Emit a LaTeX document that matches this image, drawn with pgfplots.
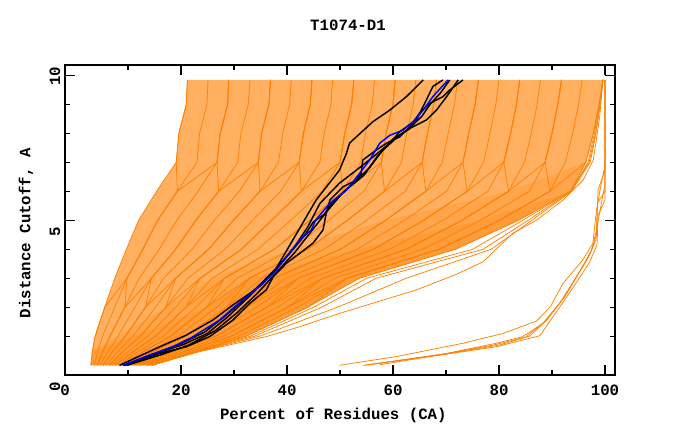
\documentclass[border=0pt]{standalone}
\usepackage{fontspec}
\setmainfont{Liberation Mono}
\usepackage{pgfplots}
\usepackage{pgfplotstable}
\pgfplotsset{compat=1.18}
\definecolor{gor}{RGB}{255,128,0}
\newcommand\lab{\fontsize{11.8}{13}\selectfont\bfseries}

\pgfplotstableread{
y c0 c1 c2 c3 c4 c5 c6 c7 c8 c9 c10 c11 c12 c13 c14 c15 c16 c17 c18 c19 c20
0 3.0 3.6 4.2 4.7 5.3 5.9 6.5 7.0 7.6 8.2 8.8 9.3 9.9 10.5 11.1 11.6 12.2 12.8 13.4 13.9 14.5
0.5 3.3 4.3 5.3 6.3 7.2 8.2 9.2 10.2 11.2 12.2 13.2 14.1 15.1 16.1 17.1 18.1 19.1 20.0 21.0 22.0 23.0
1 3.8 5.2 6.6 8.1 9.5 10.9 12.3 13.7 15.2 16.6 18.0 19.4 20.8 22.3 23.7 25.1 26.5 27.9 29.4 30.8 32.2
2 5.6 7.5 9.4 11.3 13.3 15.2 17.1 19.0 20.9 22.8 24.8 26.7 28.6 30.5 32.4 34.3 36.2 38.2 40.1 42.0 43.9
3 7.5 9.8 12.1 14.4 16.7 19.0 21.3 23.6 25.9 28.2 30.6 32.9 35.2 37.5 39.8 42.1 44.4 46.7 49.0 51.3 53.6
4 9.7 12.8 15.9 19.0 22.1 25.2 28.3 31.4 34.5 37.6 40.8 43.9 47.0 50.1 53.2 56.3 59.4 62.5 65.6 68.7 71.8
5 12.0 15.6 19.2 22.8 26.3 29.9 33.5 37.1 40.7 44.3 47.9 51.4 55.0 58.6 62.2 65.8 69.4 73.0 76.5 80.1 83.7
6 15.4 19.3 23.2 27.1 31.0 34.9 38.8 42.7 46.6 50.5 54.5 58.4 62.3 66.2 70.1 74.0 77.9 81.8 85.7 89.6 93.5
7 19.1 23.0 26.8 30.7 34.6 38.4 42.3 46.2 50.0 53.9 57.8 61.6 65.5 69.3 73.2 77.1 80.9 84.8 88.7 92.5 96.4
8 19.6 23.5 27.4 31.3 35.2 39.2 43.1 47.0 50.9 54.8 58.7 62.6 66.5 70.4 74.3 78.3 82.2 86.1 90.0 93.9 97.8
9 21.0 24.9 28.8 32.7 36.6 40.5 44.4 48.3 52.2 56.1 60.0 63.8 67.7 71.6 75.5 79.4 83.3 87.2 91.1 95.0 98.9
9.84 21.2 25.1 29.0 33.0 36.9 40.8 44.7 48.6 52.6 56.5 60.4 64.3 68.2 72.2 76.1 80.0 83.9 87.8 91.8 95.7 99.6
}\maintab

\pgfplotstableread{
y d1 d2 d3 d4 d5 d6 d7 d8 d9 d10 u1 u2 u3 u4 u5 u6 u7 u8 u9 u10
0 4.2 5.3 6.5 7.6 8.8 9.9 11.1 12.2 13.4 14.5 3.0 4.2 5.3 6.5 7.6 8.8 9.9 11.1 12.2 13.4
0.5 5.3 7.2 9.2 11.2 13.2 15.1 17.1 19.1 21.0 23.0 3.3 5.3 7.2 9.2 11.2 13.2 15.1 17.1 19.1 21.0
1 6.6 9.5 12.3 15.2 18.0 20.8 23.7 26.5 29.4 32.2 3.8 6.6 9.5 12.3 15.2 18.0 20.8 23.7 26.5 29.4
2 9.4 13.3 17.1 20.9 24.8 28.6 32.4 36.2 40.1 43.9 5.6 9.4 13.3 17.1 20.9 24.8 28.6 32.4 36.2 40.1
3 9.8 14.4 19.0 23.6 28.2 32.9 37.5 42.1 46.7 51.3 9.8 14.4 19.0 23.6 28.2 32.9 37.5 42.1 46.7 51.3
4 12.8 19.0 25.2 31.4 37.6 43.9 50.1 56.3 62.5 68.7 12.8 19.0 25.2 31.4 37.6 43.9 50.1 56.3 62.5 68.7
5 15.6 22.8 29.9 37.1 44.3 51.4 58.6 65.8 73.0 80.1 15.6 22.8 29.9 37.1 44.3 51.4 58.6 65.8 73.0 80.1
6 19.3 27.1 34.9 42.7 50.5 58.4 66.2 74.0 81.8 89.6 19.3 27.1 34.9 42.7 50.5 58.4 66.2 74.0 81.8 89.6
7 19.1 26.8 34.6 42.3 50.0 57.8 65.5 73.2 80.9 88.7 26.8 34.6 42.3 50.0 57.8 65.5 73.2 80.9 88.7 96.4
8 19.6 27.4 35.2 43.1 50.9 58.7 66.5 74.3 82.2 90.0 27.4 35.2 43.1 50.9 58.7 66.5 74.3 82.2 90.0 97.8
9 21.0 28.8 36.6 44.4 52.2 60.0 67.7 75.5 83.3 91.1 28.8 36.6 44.4 52.2 60.0 67.7 75.5 83.3 91.1 98.9
9.84 21.2 29.0 36.9 44.7 52.6 60.4 68.2 76.1 83.9 91.8 29.0 36.9 44.7 52.6 60.4 68.2 76.1 83.9 91.8 99.6
}\crosstab

\begin{document}
\begin{tikzpicture}
\useasboundingbox (0,0) rectangle (510pt,330pt);
\begin{axis}[
  at={(48.75pt,48.75pt)}, anchor=south west, scale only axis,
  width=412.5pt, height=232.5pt,
  xmin=-1.887, xmax=101.887, ymin=-0.3345, ymax=10.355,
  axis line style={line width=1.1pt},
  tick align=inside,
  xtick={20,40,60,80,100}, xticklabels={20,40,60,80,100},
  minor xtick={10,30,50,70,90},
  ytick={5,10}, yticklabels={5,{}},
  minor ytick={1,2,3,4,6,7,8,9},
  major tick length=7.5pt, minor tick length=3.75pt,
  every tick/.style={black, line width=0.9pt},
  extra x ticks={-1.887}, extra x tick labels={0},
  extra x tick style={major tick length=0pt},
  extra y ticks={-0.3345,10.355}, extra y tick labels={0,10},
  extra y tick style={major tick length=0pt},
  xticklabel style={font=\lab, yshift=-4pt},
  yticklabel style={font=\lab, rotate=90, anchor=south, xshift=-8.5pt},
  orl/.style={gor, line width=0.55pt},
  blk/.style={black, line width=1.1pt},
]
% band of models, drawn as its envelope
\addplot[fill=gor!62!white, draw=none] coordinates {
(3.0,0)(3.3,0.5)(3.8,1)(4.6,1.5)(5.6,2)(7.5,3)(9.7,4)(12.0,5)(15.4,6)(19.1,7)(19.6,8)(21.0,9)(21.2,9.84)
(99.6,9.84)(98.9,9)(97.8,8)(96.4,7)(93.5,6)(83.7,5)(71.8,4)(53.8,3)(43.7,2)(32.2,1)(23.0,0.5)(14.5,0)(3.0,0)};
% denser lower-right part of the band
\addplot[fill=gor, fill opacity=0.22, draw=none] coordinates {
(3.0,0)(3.3,0.5)(8.1,1)(17.1,2)(25.9,3)(40.8,4)(58.6,5)(81.8,6)(96.4,7)
(93.5,6)(83.7,5)(71.8,4)(53.8,3)(43.7,2)(32.2,1)(23.0,0.5)(14.5,0)(3.0,0)};
\addplot[fill=gor, fill opacity=0.22, draw=none] coordinates {
(3.0,0)(3.6,0.5)(10.9,1)(24.8,2)(32.9,3)(53.2,4)(76.5,5)(93.5,6)
(83.7,5)(71.8,4)(53.8,3)(43.7,2)(32.2,1)(23.0,0.5)(14.5,0)(3.0,0)};
% main band curves
\pgfplotsinvokeforeach{0,...,20}{\addplot[orl] table[x=c#1, y=y] {\maintab};}
\pgfplotsinvokeforeach{1,...,10}{\addplot[orl] table[x=d#1, y=y] {\crosstab};
  \addplot[orl] table[x=u#1, y=y] {\crosstab};}
% sparse best models
\addplot[orl] coordinates {(14.5,0)(23.2,0.5)(33.0,1)(45.0,2)(55.0,3)(75.0,4)(84.5,5)(93.5,6)(96.8,7)(98.0,8)(99.0,9)(99.6,9.84)};
\addplot[orl] coordinates {(14.5,0)(23.5,0.5)(33.8,1)(46.5,2)(56.8,3)(77.0,4)(85.5,5)(93.6,6)(97.0,7)(98.2,8)(99.0,9)(99.6,9.84)};
\addplot[orl] coordinates {(14.4,0)(23.8,0.5)(34.8,1)(49.5,2)(62.5,3)(78.5,4)(86.2,5)(93.7,6)(97.2,7)(98.3,8)(99.1,9)(99.6,9.84)};
\addplot[orl] coordinates {(14.4,0)(23.5,0.47)(36.1,0.99)(42.4,1.33)(49.9,1.79)(64.4,2.6)(71.6,3.11)(77.0,3.57)(82.6,4.55)(87.1,5.01)(92.1,5.70)(95.9,6.39)(97.8,7.08)(99.0,8.57)(99.6,9.84)};
% separate cluster
\addplot[orl] coordinates {(49.9,0)(60.6,0.30)(73.2,0.76)(80.8,1.10)(87.1,1.53)(89.7,2.02)(92.1,2.83)(95.8,3.63)(97.7,4.20)(98.4,5.36)(99.3,6.28)(100,6.90)(100,9.84)};
\addplot[orl] coordinates {(54.3,0)(66.9,0.30)(79.5,0.64)(87.7,1.02)(91.5,2.02)(94.3,2.77)(97.1,3.56)(98.5,4.15)(98.7,5.18)(100,5.70)(100,9.84)};
\addplot[orl] coordinates {(56.2,0.04)(70.1,0.41)(79.5,0.76)(84.5,0.99)(88.3,1.45)(91.5,2.15)(93.9,2.84)(96.8,3.70)(98.3,4.32)(98.7,6.05)(100,6.73)(100,9.84)};
\addplot[orl] coordinates {(54.7,0)(68.8,0.36)(80.1,0.70)(85.8,1.01)(89.0,1.56)(92.4,2.36)(95.2,3.22)(97.5,3.98)(98.4,4.67)(99.6,5.88)(100,6.22)(100,9.84)};
\addplot[orl] coordinates {(57.5,0.02)(69.5,0.38)(79.0,0.70)(85.0,0.97)(88.6,1.50)(91.9,2.25)(94.6,3.05)(97.2,3.85)(98.4,4.50)(98.6,5.60)(100,6.00)(100,9.84)};
% black models
\addplot[blk] coordinates {(8.4,0)(16.0,0.64)(21.0,1.04)(26.0,1.56)(29.8,2.08)(34.8,2.71)(37.4,3.17)(41.1,4.32)(45.5,5.70)(49.9,6.73)(51.2,7.30)(51.8,7.66)(53.1,7.88)(56.2,8.40)(59.4,8.80)(62.5,9.26)(65.7,9.84)};
\addplot[blk] coordinates {(9.7,0)(16.0,0.41)(21.0,0.64)(25.4,0.99)(29.8,1.56)(33.0,2.14)(36.1,2.60)(37.4,3.06)(39.9,3.52)(42.4,3.86)(44.9,4.21)(46.8,4.67)(47.4,5.24)(48.1,5.70)(50.6,6.16)(53.1,6.39)(54.0,6.62)(54.3,7.08)(56.9,7.43)(58.8,7.66)(61.3,7.88)(63.2,8.23)(65.0,8.69)(66.9,9.03)(69.4,9.26)(70.7,9.49)(73.2,9.84)};
\addplot[blk] coordinates {(9.4,0)(15.0,0.40)(20.0,0.75)(24.5,1.15)(28.0,1.65)(31.5,2.20)(35.0,2.80)(38.5,3.45)(41.5,4.10)(44.0,4.80)(46.2,5.58)(49.9,6.28)(53.1,6.73)(56.0,7.15)(59.4,7.66)(61.3,8.06)(64.4,8.46)(66.3,9.15)(67.5,9.61)(69.4,9.84)};
\addplot[blk] coordinates {(9.8,0)(16.5,0.38)(21.5,0.70)(26.5,1.20)(30.5,1.80)(34.5,2.50)(38.0,3.20)(41.5,3.90)(44.5,4.60)(47.5,5.30)(50.5,5.95)(53.5,6.45)(55.5,6.80)(58.0,7.40)(61.0,7.90)(63.5,8.20)(66.3,8.46)(68.2,8.80)(70.1,9.26)(72.3,9.84)};
\addplot[blk] coordinates {(9.2,0)(15.5,0.42)(20.5,0.72)(25.0,1.10)(29.0,1.70)(33.0,2.40)(36.8,3.10)(40.0,3.75)(43.2,4.45)(45.0,4.95)(47.0,5.20)(48.5,5.60)(51.5,6.10)(54.5,6.55)(57.0,7.20)(60.0,7.80)(63.0,8.15)(65.5,8.60)(67.0,9.00)(69.0,9.40)(70.7,9.84)};
% blue model
\addplot[blue, line width=1.1pt] coordinates {(9.06,0)(14.1,0.36)(18.5,0.64)(22.3,0.99)(27.3,1.56)(29.8,1.97)(33.6,2.54)(36.1,2.94)(38.0,3.29)(39.9,3.74)(42.4,4.33)(44.6,4.67)(45.4,5.01)(48.1,5.59)(51.2,6.04)(53.7,6.62)(55.6,7.08)(57.5,7.66)(59.4,7.93)(61.9,8.11)(63.8,8.40)(65.7,8.80)(67.5,9.26)(70.4,9.84)};
\end{axis}
\node[font=\lab] at (261pt,311.25pt) {T1074-D1};
\node[font=\lab] at (250pt,18.75pt) {Percent of Residues (CA)};
\node[font=\lab, rotate=90] at (19.5pt,155pt) {Distance Cutoff, A};
\end{tikzpicture}
\end{document}
